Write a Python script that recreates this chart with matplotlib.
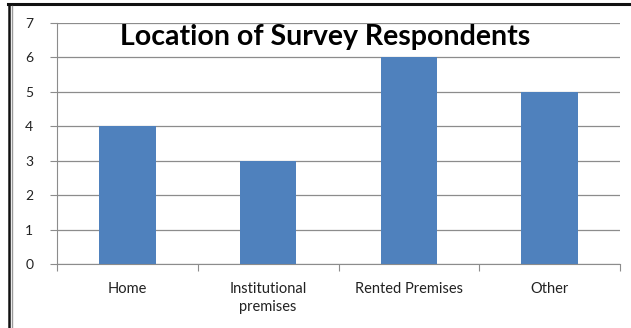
import matplotlib
matplotlib.use("Agg")
import numpy as np
from matplotlib import pyplot as plt
from matplotlib.lines import Line2D

# Data
categories = ["Home", "Institutional\npremises", "Rented Premises", "Other"]
counts = [4, 3, 6, 5]
y_ticks = [0, 1, 2, 3, 4, 5, 6, 7]

plt.rcParams['font.family'] = ['Lato', 'DejaVu Sans']

fig = plt.figure(figsize=(6.31, 3.28), dpi=100)
ax = fig.add_axes([57 / 631, (328 - 264) / 328, (620 - 57) / 631, (264 - 23) / 328])

x = np.arange(len(categories))
ax.bar(x, counts, width=0.4, color="#4F81BD", zorder=3)

ax.set_xlim(-0.5, len(categories) - 0.5)
ax.set_ylim(0, 7)
ax.set_yticks(y_ticks)
ax.set_yticklabels([str(t) for t in y_ticks], fontsize=10, color="#222222")
ax.yaxis.grid(True, color="#8c8c8c", linewidth=0.9, zorder=0)

# category labels under each bar, ticks on the boundaries
ax.set_xticks(np.arange(-0.5, len(categories), 1.0))
ax.set_xticklabels([])
ax.set_xticks(x, minor=True)
ax.set_xticklabels(categories, minor=True, fontsize=10.5, color="#222222",
                   linespacing=1.4)
ax.tick_params(axis="x", which="minor", length=0, pad=13)
ax.tick_params(axis="x", which="major", length=5, color="#8c8c8c")
ax.tick_params(axis="y", length=5, color="#8c8c8c", pad=12)

for side in ["top", "right"]:
    ax.spines[side].set_visible(False)
ax.spines["left"].set_color("#8c8c8c")
ax.spines["bottom"].set_color("#8c8c8c")

fig.text(325 / 631, 1 - 37 / 328, "Location of Survey Respondents",
         ha="center", va="center", fontsize=20.5, fontweight="bold")

# outer frame (top and left edge)
fig.add_artist(Line2D([8 / 631, 1], [1 - 4 / 328, 1 - 4 / 328], color="#111111", linewidth=2.2))
fig.add_artist(Line2D([9 / 631, 9 / 631], [0, 1 - 4 / 328], color="#111111", linewidth=1.8))
fig.add_artist(Line2D([12 / 631, 12 / 631], [0, 1 - 6 / 328], color="#9a9a9a", linewidth=1.0))

fig.savefig("out.png", dpi=100)
